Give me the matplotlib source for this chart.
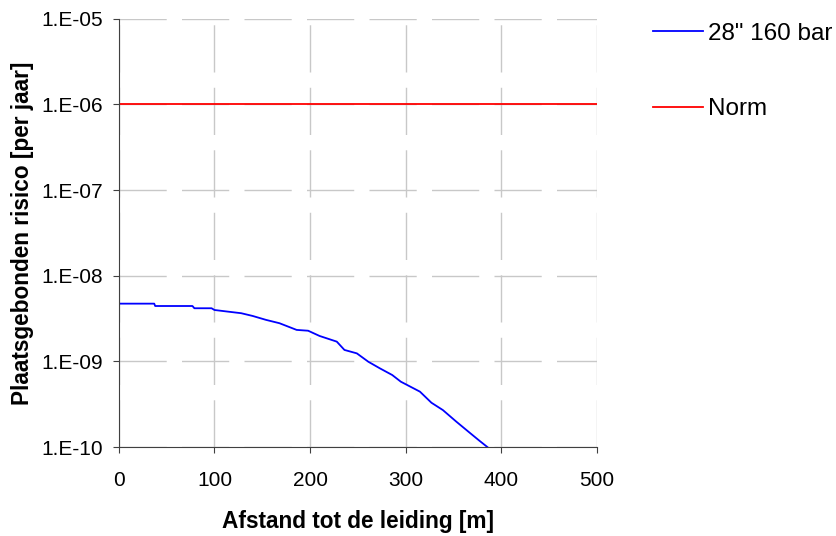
import numpy as np
import matplotlib.pyplot as plt
from matplotlib.ticker import FixedLocator, FuncFormatter, NullLocator

plt.rcParams['font.family'] = ['Liberation Sans', 'DejaVu Sans']

# afstand [m] en plaatsgebonden risico [per jaar]
afstand = [0, 37, 38, 77, 79, 97, 100, 114, 128, 140, 154, 168, 186, 198,
           210, 228, 236, 249, 261, 273, 286, 295, 315, 327, 339, 353, 367,
           377, 387]
risico = [4.72e-9, 4.72e-9, 4.43e-9, 4.43e-9, 4.17e-9, 4.17e-9, 3.98e-9,
          3.81e-9, 3.65e-9, 3.39e-9, 3.05e-9, 2.79e-9, 2.33e-9, 2.28e-9,
          1.98e-9, 1.70e-9, 1.36e-9, 1.24e-9, 9.9e-10, 8.3e-10, 6.93e-10,
          5.79e-10, 4.43e-10, 3.29e-10, 2.70e-10, 1.98e-10, 1.47e-10,
          1.19e-10, 0.97e-10]

norm_x = [0, 500]
norm_y = [1e-6, 1e-6]

x_ticks = [0, 100, 200, 300, 400, 500]
y_ticks = [1e-10, 1e-9, 1e-8, 1e-7, 1e-6, 1e-5]

fig = plt.figure(figsize=(8.37, 5.36), dpi=100)
ax = fig.add_axes([0.142, 0.166, 0.571, 0.799])

ax.plot(afstand, risico, color='#0000ff', lw=1.3, label='28" 160 bar')
ax.plot(norm_x, norm_y, color='#ff0000', lw=1.3, label='Norm')

ax.set_yscale('log')
ax.set_xlim(0, 500)
ax.set_ylim(1e-10, 1e-5)
ax.xaxis.set_major_locator(FixedLocator(x_ticks))
ax.yaxis.set_major_locator(FixedLocator(y_ticks))
ax.yaxis.set_minor_locator(NullLocator())
ax.yaxis.set_major_formatter(FuncFormatter(
    lambda v, p: '1.E-%02d' % round(-np.log10(v))))

ax.grid(True, color='#c8c8c8', lw=1, linestyle=(0, (34, 11)))
ax.set_axisbelow(True)
for s in ['top', 'right']:
    ax.spines[s].set_visible(False)
for s in ['left', 'bottom']:
    ax.spines[s].set_color('#404040')
ax.tick_params(direction='out', length=4.5, labelsize=15, color='#404040')
ax.tick_params(axis='x', pad=12.5)
ax.tick_params(axis='y', pad=7)

ax.set_xlabel('Afstand tot de leiding [m]', fontsize=16.3, fontweight='bold',
              labelpad=15)
ax.set_ylabel('Plaatsgebonden risico [per jaar]', fontsize=16.3,
              fontweight='bold', labelpad=5)

fig.legend(loc='upper left', bbox_to_anchor=(0.780, 0.958), frameon=False,
           fontsize=17.5, handlelength=2.05, handletextpad=0.2,
           labelspacing=2.2, borderpad=0, borderaxespad=0)

fig.savefig('out.png', dpi=100)
